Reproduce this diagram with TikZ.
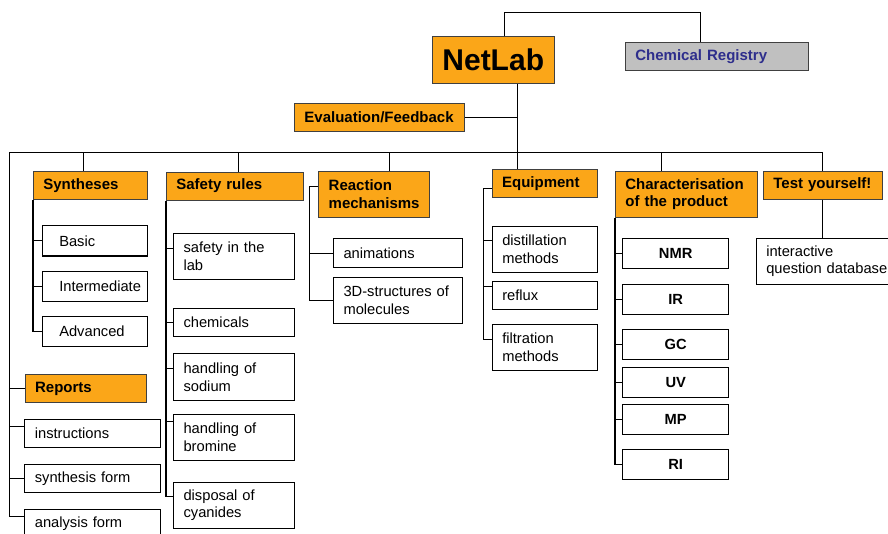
\documentclass[tikz,border=0pt]{standalone}
\usepackage{fontspec}
\setmainfont{Liberation Sans}
\definecolor{labOrange}{RGB}{251,166,24}
\definecolor{regGray}{RGB}{192,192,192}
\definecolor{regBlue}{RGB}{46,46,140}
\hyphenpenalty=10000
\begin{document}
\begin{tikzpicture}[x=1pt,y=-1pt,
    head/.style={draw=black!75, line width=0.8pt, fill=labOrange, anchor=north west,
      inner xsep=10pt, inner ysep=0pt, align=left, font=\fontsize{15}{17.7}\selectfont\bfseries},
    item/.style={draw=black, line width=1.1pt, fill=white, anchor=north west,
      inner xsep=10pt, inner ysep=0pt, align=left, font=\fontsize{14.7}{17.7}\selectfont},
    level/.style={item, inner xsep=0pt, text width=105.3pt, minimum height=30.4pt,
      execute at begin node={\hspace*{17pt}}},
    tech/.style={item, align=center, text width=85.7pt, minimum height=30pt,
      font=\fontsize{14.7}{17.7}\selectfont\bfseries},
    link/.style={line width=1.1pt}]
  \useasboundingbox (0,0) rectangle (888,533);
  % NetLab, registry and feedback
  \node[head, align=center, text width=102.3pt, minimum height=46.7pt,
    font=\fontsize{30}{36}\selectfont\bfseries] (netlab) at (431.7,36) {NetLab};
  \node[head, fill=regGray, text=regBlue, text width=163.3pt, minimum height=28pt] (registry) at (625,42.3) {Chemical Registry};
  \node[head, text width=150.3pt, minimum height=28.3pt] (feedback) at (294,102.7) {Evaluation/Feedback};
  % section heads
  \node[head, text width=94pt, minimum height=28.3pt] (syn) at (33,170.7) {Syntheses};
  \node[head, text width=117pt, minimum height=28pt] (safety) at (166,171.7) {Safety rules};
  \node[head, text width=90.7pt, minimum height=46pt] (mech) at (318.3,170.7) {Reaction\\mechanisms};
  \node[head, text width=85.6pt, minimum height=28pt] (equip) at (491.7,169.3) {Equipment};
  \node[head, text width=122.3pt, minimum height=46pt] (charac) at (615,170.7) {Characterisation\\of the product};
  \node[head, inner xsep=9.7pt, text width=99pt, minimum height=28pt] (test) at (763.3,170.7) {Test yourself!};
  \node[head, text width=101pt, minimum height=28.3pt] (reports) at (24.7,374) {Reports};
  % syntheses levels
  \node[level] (basic) at (41.7,225) {Basic};
  \node[level] (inter) at (41.7,270.7) {Intermediate};
  \node[level] (adv) at (41.7,315.7) {Advanced};
  % safety items
  \node[item, text width=101.3pt, minimum height=46pt] (lab) at (173,233) {safety in the\\lab};
  \node[item, text width=101.3pt, minimum height=28pt] (chemicals) at (173,308) {chemicals};
  \node[item, text width=101.3pt, minimum height=46.4pt] (sodium) at (173,353.3) {handling of\\sodium};
  \node[item, text width=101.3pt, minimum height=46pt] (bromine) at (173,414) {handling of\\bromine};
  \node[item, text width=101.3pt, minimum height=46pt] (cyanides) at (173,481.7) {disposal of\\cyanides};
  % mechanisms items
  \node[item, text width=108.7pt, minimum height=28.4pt] (anim) at (333,238.3) {animations};
  \node[item, text width=108.7pt, minimum height=46pt] (molec) at (333,277) {3D-structures of\\molecules};
  % equipment items
  \node[item, text width=85.6pt, minimum height=46pt] (distil) at (491.7,226) {distillation\\methods};
  \node[item, text width=85.6pt, minimum height=28pt] (reflux) at (491.7,281) {reflux};
  \node[item, text width=85.6pt, minimum height=46.3pt] (filter) at (491.7,323.7) {filtration\\methods};
  % characterisation methods
  \node[tech] (nmr) at (622.3,238.3) {NMR};
  \node[tech] (ir) at (622.3,283.7) {IR};
  \node[tech] (gc) at (622.3,328.7) {GC};
  \node[tech] (uv) at (622.3,366.7) {UV};
  \node[tech] (mp) at (622.3,404) {MP};
  \node[tech] (ri) at (622.3,449.3) {RI};
  % test and reports items
  \node[item, text width=124pt, minimum height=46pt] (quest) at (755.7,237.7) {interactive\\question database};
  \node[item, text width=115.7pt, minimum height=28pt] (instr) at (24.3,418.7) {instructions};
  \node[item, text width=115.7pt, minimum height=28pt] (synform) at (24.3,463.7) {synthesis form};
  \node[item, text width=115.7pt, minimum height=28pt] (anaform) at (24.3,509) {analysis form};

  % top links
  \draw[link] ([xshift=10.8pt]netlab.north) -- ++(0,-23.7) -| ([xshift=-16.7pt]registry.north);
  \coordinate (trunk) at ([xshift=24.1pt]netlab.south);
  \draw[link] (trunk) -- (trunk |- equip.north);
  \draw[link] (feedback.east) -- (feedback.east -| trunk);
  % bus and stems
  \coordinate (busL) at (9.3,152.7);
  \draw[link] (test.north) |- (busL) |- ([yshift=6.7pt]anaform.west);
  \draw[link] ([xshift=-7pt]syn.north) -- ([xshift=-7pt]syn.north |- busL);
  \draw[link] ([xshift=3.5pt]safety.north) -- ([xshift=3.5pt]safety.north |- busL);
  \draw[link] ([xshift=15.35pt]mech.north) -- ([xshift=15.35pt]mech.north |- busL);
  \draw[link] ([xshift=-25.45pt]charac.north) -- ([xshift=-25.45pt]charac.north |- busL);
  % reports
  \draw[link] (busL |- reports.west) -- (reports.west);
  \draw[link] ([yshift=6.7pt]instr.west) -- ++(-15,0);
  \draw[link] (synform.west) -- ++(-15,0);
  % syntheses
  \draw[link] (syn.south west) |- (adv.west);
  \draw[link] (syn.south west |- basic.west) -- (basic.west);
  \draw[link] (syn.south west |- inter.west) -- (inter.west);
  % safety rules
  \draw[link] (safety.south west) |- ([yshift=9pt]cyanides.west);
  \draw[link] ([yshift=8.3pt]lab.west) -- ++(-7,0);
  \draw[link] (chemicals.west) -- ++(-7,0);
  \draw[link] ([yshift=8.2pt]sodium.west) -- ++(-7,0);
  \draw[link] ([yshift=16pt]bromine.west) -- ++(-7,0);
  % reaction mechanisms
  \draw[link] ([yshift=8pt]mech.west) -- ++(-9,0) coordinate (mb) |- (molec.west);
  \draw[link] (mb |- anim.west) -- (anim.west);
  % equipment
  \draw[link] ([yshift=-5pt]equip.west) -- ++(-8,0) coordinate (eb) |- ([yshift=7.85pt]filter.west);
  \draw[link] ([yshift=8.7pt]distil.west) -- ++(-8,0);
  \draw[link] ([yshift=9.3pt]reflux.west) -- ++(-8,0);
  % characterisation
  \draw[link] (charac.south west) |- (ri.west);
  \draw[link] (nmr.west) -- (nmr.west -| charac.south west);
  \draw[link] (ir.west) -- (ir.west -| charac.south west);
  \draw[link] (gc.west) -- (gc.west -| charac.south west);
  \draw[link] (uv.west) -- (uv.west -| charac.south west);
  \draw[link] (mp.west) -- (mp.west -| charac.south west);
  % test yourself
  \draw[link] (test.south) -- (test.south |- quest.north);
\end{tikzpicture}
\end{document}
